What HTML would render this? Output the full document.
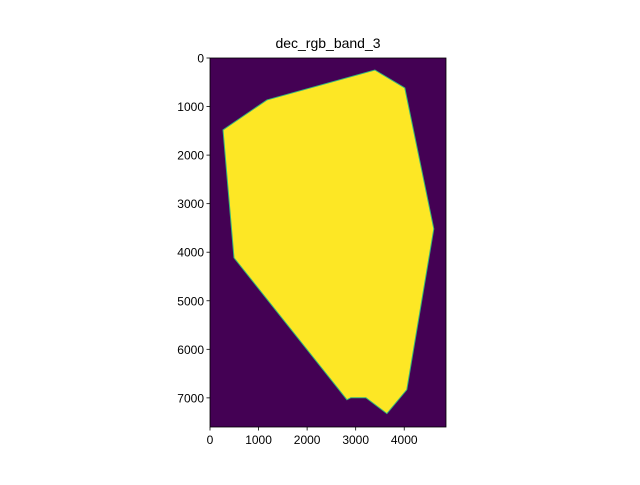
<!DOCTYPE html>
<html><head><meta charset="utf-8"><style>
body{margin:0;background:#fff;}
svg text{font-family:"Liberation Sans","DejaVu Sans",sans-serif;}
</style></head><body>
<svg width="640" height="480" xmlns="http://www.w3.org/2000/svg">
<g id="plot"></g>
</svg>
<script>
const polyX=[267,1173,3395,4012,4609,4053,3642,3210,2901,2819,494];
const polyY=[1481,864,247,617,3519,6831,7325,6996,6996,7037,4115];
const xTicks=[0,1000,2000,3000,4000];
const yTicks=[0,1000,2000,3000,4000,5000,6000,7000];
const extentX=4860, extentY=7600;
const L=210,T=58,W=236,H=369;
const sx=v=>L+v/extentX*W, sy=v=>T+v/extentY*H;
const NS="http://www.w3.org/2000/svg";
const g=document.getElementById('plot');
function mk(t,a){const e=document.createElementNS(NS,t);for(const k in a)e.setAttribute(k,a[k]);g.appendChild(e);return e;}
const bg=mk('rect',{x:L,y:T,width:W,height:H,fill:'#440154'});


const pts=polyX.map((x,i)=>sx(x).toFixed(1)+','+sy(polyY[i]).toFixed(1)).join(' ');
const poly=mk('polygon',{points:pts,fill:'#fde725',stroke:'#35b779','stroke-width':1});


const fr=mk('rect',{x:L,y:T,width:W,height:H,fill:'none',stroke:'#000','stroke-width':0.8});


xTicks.forEach(v=>{const x=sx(v);
 const l=mk('line',{x1:x,x2:x,y1:T+H,y2:T+H+3.5,stroke:'#000','stroke-width':0.8});
 
 
 const t=mk('text',{x:x,y:T+H+17,'text-anchor':'middle','font-size':12});t.textContent=v;
 
 });
yTicks.forEach(v=>{const y=sy(v);
 const l=mk('line',{x1:L-3.5,x2:L,y1:y,y2:y,stroke:'#000','stroke-width':0.8});
 
 
 const t=mk('text',{x:L-6,y:y+4.5,'text-anchor':'end','font-size':12});t.textContent=v;
 
 });
const ti=mk('text',{x:L+W/2,y:T-10,'text-anchor':'middle','font-size':14});ti.textContent='dec_rgb_band_3';


</script>
</body></html>
